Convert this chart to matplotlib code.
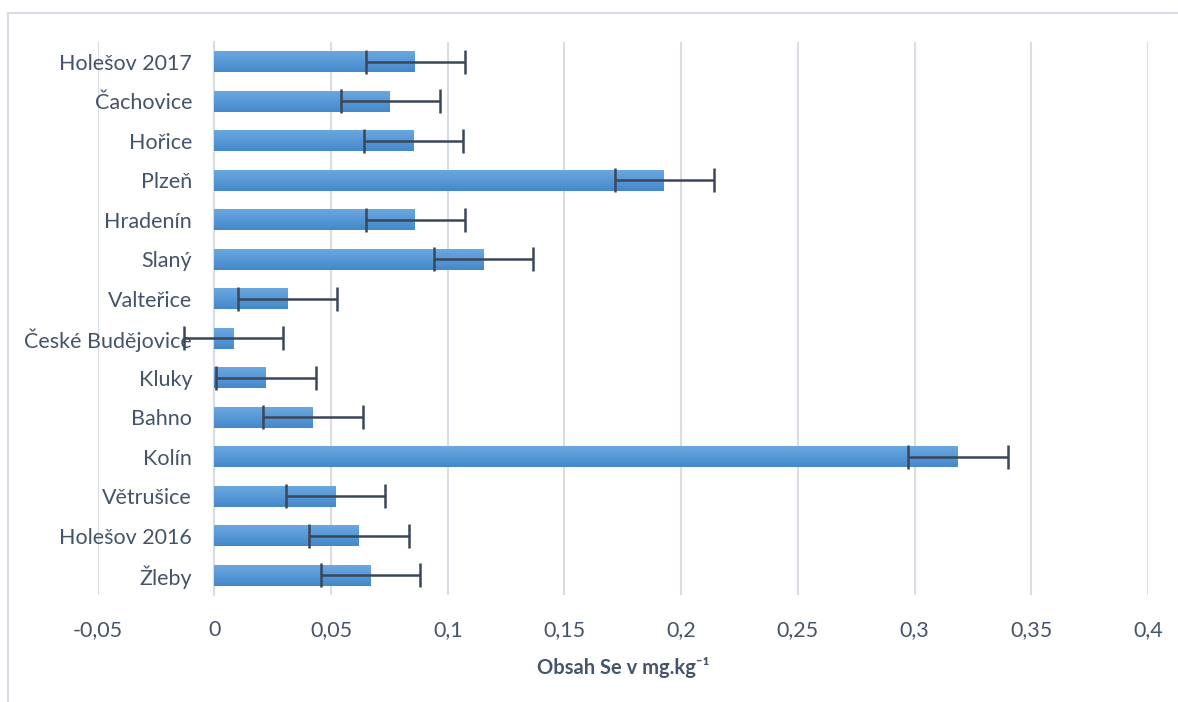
import matplotlib.pyplot as plt
import numpy as np
from matplotlib.colors import LinearSegmentedColormap
from matplotlib.lines import Line2D

plt.rcParams["font.family"] = ["Lato", "DejaVu Sans"]

sites = ["Holešov 2017", "Čachovice", "Hořice", "Plzeň", "Hradenín", "Slaný",
         "Valteřice", "České Budějovice", "Kluky", "Bahno", "Kolín", "Větrušice",
         "Holešov 2016", "Žleby"]
se_content = [0.0861, 0.0754, 0.0853, 0.1928, 0.0861, 0.1153,
              0.0313, 0.0083, 0.0221, 0.0422, 0.3186, 0.0520,
              0.0620, 0.0670]
se_error = [0.0213] * len(sites)
xticks = [-0.05, 0, 0.05, 0.1, 0.15, 0.2, 0.25, 0.3, 0.35, 0.4]

text_color = "#44546a"
grid_color = "#d9dee6"

fig = plt.figure(figsize=(11.78, 7.02), dpi=100)
ax = fig.add_axes([0.0829, 0.1524, 0.8916, 0.7878])

y = np.arange(len(sites))
bars = ax.barh(y, se_content, height=0.53, color="#5b9bd5", zorder=2)

# Excel-like vertical gradient on each bar
grad_cmap = LinearSegmentedColormap.from_list("bar", ["#6ba8e0", "#4488cb"])
grad = np.linspace(0, 1, 64).reshape(-1, 1)
for b in bars:
    x0, y0 = b.get_x(), b.get_y()
    ax.imshow(grad, cmap=grad_cmap, aspect="auto", zorder=3,
              extent=[x0, x0 + b.get_width(), y0 + b.get_height(), y0])

ax.errorbar(se_content, y, xerr=se_error, fmt="none", ecolor="#3b4759",
            elinewidth=1.8, capsize=8.5, capthick=1.8, zorder=4)

ax.set_xlim(-0.05, 0.4)
ax.set_ylim(len(sites) - 0.5, -0.5)
ax.set_xticks(xticks)
ax.set_xticklabels([("%g" % v).replace(".", ",") for v in xticks])
ax.set_yticks(y)
ax.set_yticklabels(sites)

ax.grid(axis="x", color=grid_color, linewidth=1.5, zorder=0)
ax.set_axisbelow(True)
for s in ["top", "right", "bottom"]:
    ax.spines[s].set_visible(False)
ax.spines["left"].set_position(("data", 0))
ax.spines["left"].set_color(grid_color)
ax.spines["left"].set_linewidth(1.5)
ax.spines["left"].set_zorder(1)

ax.tick_params(axis="y", length=0, pad=16, labelsize=15.5, labelcolor=text_color)
ax.tick_params(axis="x", length=0, pad=18, labelsize=15.5, labelcolor=text_color)

ax.set_xlabel("Obsah Se v mg.kg⁻¹", fontsize=14.5, fontweight="bold",
              color=text_color, labelpad=12)

# chart border (top and left edges visible)
fig.add_artist(Line2D([8 / 1178, 1], [1 - 13 / 702, 1 - 13 / 702],
                      color=grid_color, linewidth=1.5))
fig.add_artist(Line2D([8 / 1178, 8 / 1178], [0, 1 - 13 / 702],
                      color=grid_color, linewidth=1.5))

fig.savefig("out.png", dpi=100)
plt.close(fig)
